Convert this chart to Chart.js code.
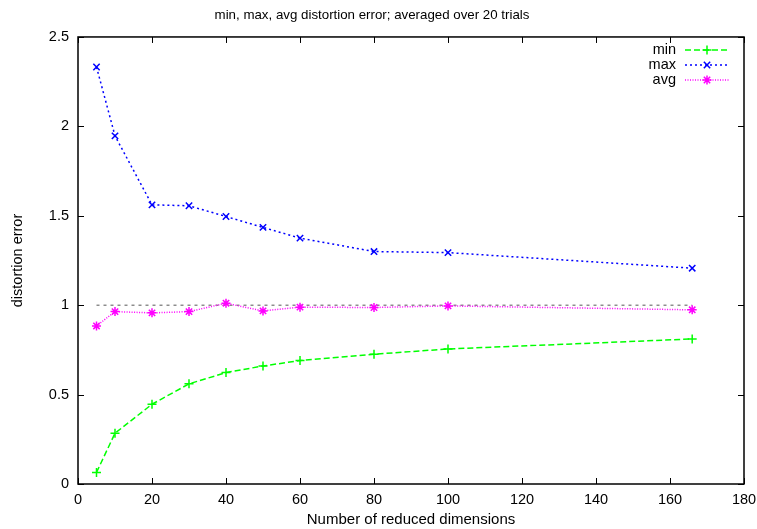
<!DOCTYPE html>
<html>
<head>
<meta charset="utf-8">
<script src="https://cdn.jsdelivr.net/npm/chart.js@4.4.1/dist/chart.umd.min.js"></script>
<style>
  html, body { margin: 0; padding: 0; background: #fff; }
  #wrap { width: 757px; height: 529px; }
</style>
</head>
<body>
<div id="wrap"><canvas id="chart" width="757" height="529"></canvas></div>
<script>
const dims = [5, 10, 20, 30, 40, 50, 60, 80, 100, 166];
const minErr = [0.065, 0.284, 0.446, 0.56, 0.623, 0.66, 0.69, 0.726, 0.755, 0.811];
const maxErr = [2.332, 1.947, 1.561, 1.556, 1.496, 1.435, 1.375, 1.300, 1.294, 1.207];
const avgErr = [0.884, 0.964, 0.957, 0.964, 1.011, 0.968, 0.989, 0.987, 0.996, 0.974];
const refX = [5, 166];
const refY = [1, 1];

const FONT = '"Liberation Sans", Arial, sans-serif';
const FS = 14.5;
Chart.defaults.font.family = FONT;
Chart.defaults.font.size = FS;
Chart.defaults.color = '#000';

const toPts = (xs, ys) => xs.map((x, i) => ({ x, y: ys[i] }));

// gnuplot-style frame: box, inward ticks on all sides, legend top right
const frame = {
  id: 'frame',
  afterDraw(chart) {
    const { ctx, chartArea: a, scales: { x, y } } = chart;
    ctx.save();
    ctx.strokeStyle = '#000';
    ctx.lineWidth = 1.5;
    ctx.setLineDash([]);
    ctx.strokeRect(a.left, a.top, a.right - a.left, a.bottom - a.top);
    const tl = 6;
    ctx.lineWidth = 1;
    ctx.beginPath();
    x.ticks.forEach(t => {
      const px = Math.round(x.getPixelForValue(t.value)) + 0.5;
      ctx.moveTo(px, a.bottom); ctx.lineTo(px, a.bottom - tl);
      ctx.moveTo(px, a.top); ctx.lineTo(px, a.top + tl);
    });
    y.ticks.forEach(t => {
      const py = Math.round(y.getPixelForValue(t.value)) + 0.5;
      ctx.moveTo(a.left, py); ctx.lineTo(a.left + tl, py);
      ctx.moveTo(a.right, py); ctx.lineTo(a.right - tl, py);
    });
    ctx.stroke();

    // legend
    ctx.font = FS + 'px ' + FONT;
    ctx.textAlign = 'right';
    ctx.textBaseline = 'middle';
    const rows = chart.data.datasets.filter(d => d.label);
    rows.forEach((d, i) => {
      const ry = 50 + i * 15;
      ctx.fillStyle = '#000';
      ctx.fillText(d.label, 676, ry);
      ctx.strokeStyle = d.borderColor;
      ctx.lineWidth = d.borderWidth;
      ctx.setLineDash(d.borderDash);
      ctx.beginPath();
      ctx.moveTo(685, ry); ctx.lineTo(729, ry);
      ctx.stroke();
      ctx.setLineDash([]);
      Chart.helpers.drawPoint(ctx, {
        pointStyle: d.pointStyle, radius: d.pointRadius, borderWidth: d.pointBorderWidth, rotation: 0
      }, 707, ry);
    });
    ctx.restore();
  }
};

new Chart(document.getElementById('chart'), {
  type: 'line',
  data: {
    datasets: [
      {
        label: 'min', data: toPts(dims, minErr),
        borderColor: '#00ff00', backgroundColor: '#00ff00',
        borderWidth: 1.5, borderDash: [6, 3],
        pointStyle: 'cross', pointRadius: 4.5, pointBorderWidth: 1.5
      },
      {
        label: 'max', data: toPts(dims, maxErr),
        borderColor: '#0000ff', backgroundColor: '#0000ff',
        borderWidth: 1.5, borderDash: [2, 3],
        pointStyle: 'crossRot', pointRadius: 4.5, pointBorderWidth: 1.5
      },
      {
        label: 'avg', data: toPts(dims, avgErr),
        borderColor: '#ff00ff', backgroundColor: '#ff00ff',
        borderWidth: 1.5, borderDash: [1, 1.5],
        pointStyle: 'star', pointRadius: 4.5, pointBorderWidth: 1.5
      },
      {
        label: '', data: toPts(refX, refY),
        borderColor: '#555', borderWidth: 1, borderDash: [3, 4],
        pointRadius: 0
      }
    ]
  },
  options: {
    responsive: false,
    animation: false,
    events: [],
    layout: { padding: { left: 0, right: 13, top: 0, bottom: 0 } },
    plugins: {
      legend: { display: false },
      tooltip: { enabled: false },
      title: {
        display: true,
        text: 'min, max, avg distortion error; averaged over 20 trials',
        font: { size: 13.3, weight: 'normal', lineHeight: 1.2 },
        color: '#000',
        padding: { top: 7.5, bottom: 13.5 }
      }
    },
    scales: {
      x: {
        type: 'linear', min: 0, max: 180,
        ticks: { stepSize: 20, padding: 7, maxRotation: 0 },
        grid: { display: false, drawTicks: false },
        border: { display: false },
        title: {
          display: true, text: 'Number of reduced dimensions',
          font: { size: 15 }, padding: { top: 0, bottom: 0 }
        },
        afterFit: s => { s.height = 45; s.paddingLeft = 0; s.paddingRight = 0; }
      },
      y: {
        type: 'linear', min: 0, max: 2.5,
        ticks: { stepSize: 0.5, padding: 9, callback: v => String(v) },
        grid: { display: false, drawTicks: false },
        border: { display: false },
        title: { display: true, text: 'distortion error', padding: { top: 9, bottom: 0 } },
        afterFit: s => { s.width = 78; s.paddingTop = 0; s.paddingBottom = 0; }
      }
    }
  },
  plugins: [frame]
});
</script>
</body>
</html>
